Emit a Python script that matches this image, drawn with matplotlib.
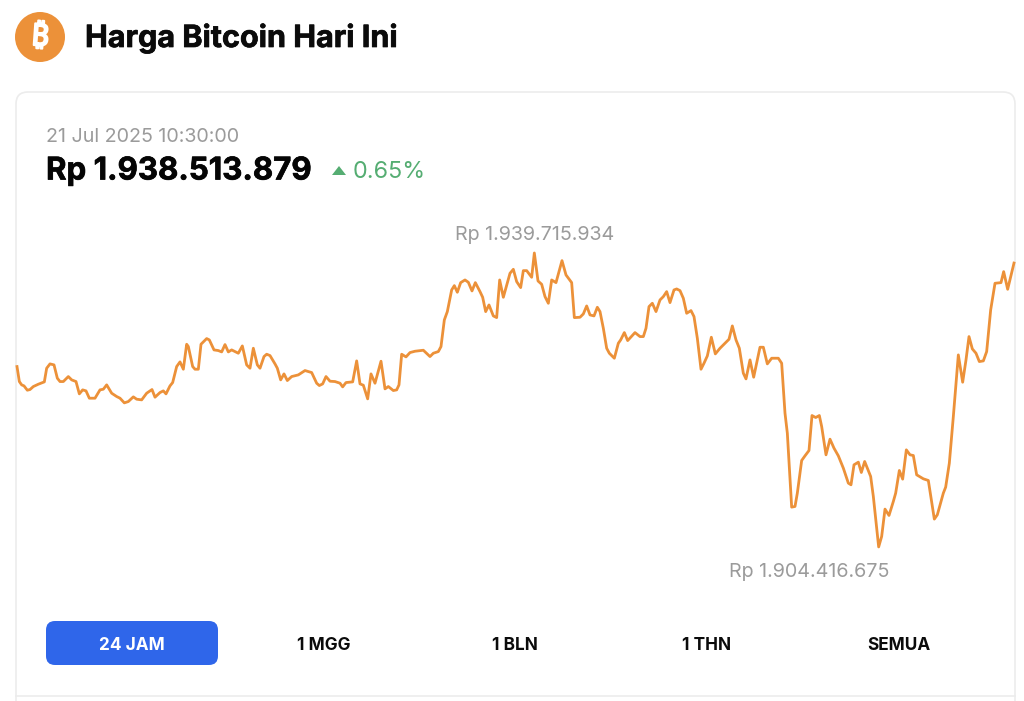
import matplotlib
matplotlib.use("Agg")
import matplotlib.pyplot as plt
import matplotlib.patheffects as pe
from matplotlib.patches import Circle, FancyBboxPatch, Polygon
from matplotlib.lines import Line2D

# posisi sampel sepanjang jendela 24 jam
waktu = [0, 7, 14, 21, 31, 39, 49, 64, 82, 89, 99, 111, 121, 129, 139, 154, 164, 177, 187, 197,
         207, 217, 234, 249, 259, 269, 284, 299, 309, 322, 334, 349, 359, 374, 389, 405, 414, 429, 439, 447,
         459, 467, 479, 489, 499, 509, 514, 527, 534, 544, 552, 569, 577, 591, 604, 614, 624, 634, 644, 664,
         676, 689, 699, 709, 721, 729, 741, 749, 759, 774, 781, 791, 801, 811, 824, 844, 864, 884, 899, 907,
         917, 927, 939, 954, 969, 977, 987, 1007, 1019, 1029, 1039, 1052, 1062, 1074, 1092, 1104, 1114, 1129, 1139, 1146,
         1154, 1167, 1179, 1194, 1219, 1239, 1249, 1264, 1272, 1282, 1291, 1304, 1312, 1321, 1331, 1344, 1354, 1365, 1375, 1389,
         1397, 1406, 1416, 1429, 1439, 1448, 1459, 1479, 1489, 1499, 1511, 1519, 1529, 1544, 1552, 1563, 1574, 1584, 1594, 1604,
         1617, 1635, 1647, 1664, 1672, 1689, 1699, 1709, 1719, 1731, 1741, 1749, 1759, 1769, 1777, 1792, 1804, 1811, 1822, 1832,
         1854, 1869, 1879, 1887, 1896, 1906, 1917, 1929, 1939, 1949, 1959, 1971, 1979, 1989, 1999, 2009, 2022, 2031, 2041, 2052,
         2061, 2071, 2083, 2095, 2109, 2136, 2146, 2157, 2167, 2179, 2187, 2199, 2210, 2229, 2239, 2251, 2264, 2284, 2294, 2304,
         2311, 2324, 2334, 2341, 2354, 2364, 2376, 2385, 2396, 2407, 2414, 2427, 2439, 2451, 2464, 2479, 2494, 2502, 2511, 2524,
         2533, 2543, 2561, 2569, 2585, 2594, 2604, 2616, 2629, 2636, 2647, 2657, 2668, 2679, 2689, 2699, 2719, 2734, 2752, 2761,
         2779, 2786, 2797, 2809, 2824, 2837, 2847, 2856, 2866, 2877, 2887, 2899, 2909, 2921, 2934, 2952, 2960, 2972, 2991]

# harga dalam juta rupiah
harga = [1926.08, 1924.28, 1923.88, 1923.76, 1923.24, 1923.32, 1923.68, 1923.96, 1924.24, 1925.88, 1926.40, 1926.28, 1924.68, 1924.28, 1924.28, 1924.88, 1924.48, 1924.28, 1922.80, 1923.28,
         1923.16, 1922.28, 1922.28, 1923.28, 1923.36, 1923.88, 1922.88, 1922.48, 1922.28, 1921.72, 1921.88, 1922.44, 1922.16, 1922.08, 1922.88, 1923.32, 1922.40, 1922.96, 1923.16, 1922.80,
         1923.76, 1924.16, 1926.08, 1926.64, 1925.76, 1928.76, 1928.48, 1926.08, 1925.76, 1925.76, 1928.76, 1929.44, 1929.28, 1928.08, 1928.00, 1927.84, 1928.72, 1927.84, 1928.08, 1927.68,
         1928.56, 1926.28, 1925.88, 1928.28, 1926.28, 1925.88, 1927.28, 1927.56, 1927.40, 1926.40, 1925.88, 1924.48, 1925.20, 1924.40, 1924.88, 1925.08, 1925.60, 1925.36, 1924.08, 1923.80,
         1924.00, 1924.88, 1924.32, 1924.28, 1924.08, 1923.64, 1924.16, 1924.24, 1926.76, 1924.00, 1923.84, 1922.20, 1925.20, 1924.08, 1926.72, 1923.40, 1923.68, 1923.20, 1923.28, 1923.88,
         1927.56, 1927.24, 1927.76, 1927.92, 1928.04, 1927.28, 1927.68, 1927.88, 1928.48, 1931.68, 1932.68, 1935.28, 1935.80, 1935.00, 1936.16, 1936.48, 1936.20, 1935.16, 1936.16, 1935.08,
         1934.40, 1932.68, 1933.48, 1932.16, 1931.96, 1936.48, 1934.40, 1937.28, 1937.76, 1936.28, 1935.56, 1937.60, 1937.60, 1936.80, 1939.72, 1936.36, 1935.96, 1934.48, 1933.68, 1936.48,
         1936.16, 1938.80, 1937.08, 1936.16, 1931.96, 1932.00, 1932.40, 1933.36, 1932.28, 1932.16, 1933.20, 1932.68, 1930.68, 1928.28, 1927.68, 1927.08, 1928.88, 1929.28, 1930.16, 1929.20,
         1930.16, 1929.68, 1929.68, 1930.68, 1933.28, 1933.68, 1932.68, 1934.08, 1934.48, 1935.08, 1933.76, 1935.28, 1935.40, 1935.20, 1934.28, 1932.48, 1932.80, 1932.08, 1929.48, 1925.76,
         1926.48, 1927.36, 1929.60, 1927.60, 1928.28, 1929.36, 1930.96, 1929.28, 1928.28, 1925.28, 1924.60, 1926.88, 1924.80, 1928.40, 1928.40, 1926.40, 1927.08, 1927.08, 1926.48, 1920.48,
         1918.08, 1909.20, 1909.28, 1910.88, 1914.80, 1915.36, 1916.00, 1920.20, 1919.96, 1920.20, 1918.88, 1915.48, 1917.36, 1916.28, 1915.36, 1913.88, 1912.08, 1911.88, 1914.28, 1914.60,
         1913.36, 1914.68, 1912.88, 1910.48, 1904.42, 1905.68, 1908.96, 1908.20, 1909.88, 1910.88, 1913.60, 1912.56, 1916.08, 1915.48, 1915.40, 1913.08, 1912.60, 1912.40, 1907.76, 1908.28,
         1910.88, 1911.60, 1914.48, 1920.08, 1927.48, 1924.20, 1926.88, 1929.68, 1928.20, 1927.68, 1926.68, 1926.76, 1927.88, 1932.88, 1936.08, 1936.16, 1937.48, 1935.36, 1938.51]

tombol = ["24 JAM", "1 MGG", "1 BLN", "1 THN", "SEMUA"]
tombol_x = [132, 324, 515, 707, 899]

oranye = "#ec9139"
abu = "#9b9b9b"
hijau = "#55ad72"
garis = "#ececec"

plt.rcParams["font.family"] = ["Inter", "DejaVu Sans"]

fig = plt.figure(figsize=(10.24, 7.01), dpi=100)

# lapisan halaman, koordinat piksel
bg = fig.add_axes([0, 0, 1, 1])
bg.set_xlim(0, 1024)
bg.set_ylim(701, 0)
bg.axis("off")

bg.add_patch(Circle((40, 37), 25, color=oranye, lw=0))
simbol = bg.text(40, 37.5, "\u20bf", color="white", fontsize=22, fontweight="bold", rotation=-4,
                 ha="center", va="center",
                 family=["Noto Sans", "Roboto", "Open Sans", "Lato", "Liberation Sans", "DejaVu Sans"])
simbol.set_path_effects([pe.withStroke(linewidth=1.4, foreground="white")])
judul = bg.text(85, 38, "Harga Bitcoin Hari Ini", fontsize=22, fontweight="bold", color="#0b0b0b",
                ha="left", va="center")
judul.set_path_effects([pe.withStroke(linewidth=0.5, foreground="#0b0b0b")])

bg.add_patch(FancyBboxPatch((16, 92), 999, 640, boxstyle="round,pad=0,rounding_size=12",
                            fc="white", ec=garis, lw=1.2))
bg.add_line(Line2D([16, 1015], [695.5, 695.5], color=garis, lw=1.2))

bg.text(46, 137.5, "21 Jul 2025 10:30:00", fontsize=14.2, color=abu, ha="left", va="center")
nilai = bg.text(46, 171.5, "Rp 1.938.513.879", fontsize=22.5, fontweight="bold", color="#050505",
                ha="left", va="center")
nilai.set_path_effects([pe.withStroke(linewidth=0.5, foreground="#050505")])
bg.add_patch(Polygon([[332, 175], [346, 175], [339, 166]], closed=True, fc=hijau, ec="none"))
bg.text(353, 172.5, "0.65%", fontsize=16.8, color=hijau, ha="left", va="center")

bg.text(534.5, 235, "Rp 1.939.715.934", fontsize=14.2, color=abu, ha="center", va="center")
bg.text(809.5, 572, "Rp 1.904.416.675", fontsize=14.2, color=abu, ha="center", va="center")

bg.add_patch(FancyBboxPatch((46, 621), 172, 44, boxstyle="round,pad=0,rounding_size=9",
                            fc="#2f66ea", ec="none"))
for i in range(len(tombol)):
    warna = "white" if i == 0 else "#0b0b0b"
    bg.text(tombol_x[i], 645, tombol[i], fontsize=12.4, fontweight="bold", color=warna,
            ha="center", va="center")

# grafik harga
ax = fig.add_axes([17 / 1024, 1 - 560 / 701, 997 / 1024, 340 / 701])
ax.patch.set_alpha(0)
ax.plot(waktu, harga, color=oranye, lw=2.0, solid_joinstyle="round", clip_on=False)
ax.set_xlim(0, 2991)
ax.set_ylim(1902.85, 1943.68)
ax.axis("off")

fig.savefig("out.png", dpi=100)
